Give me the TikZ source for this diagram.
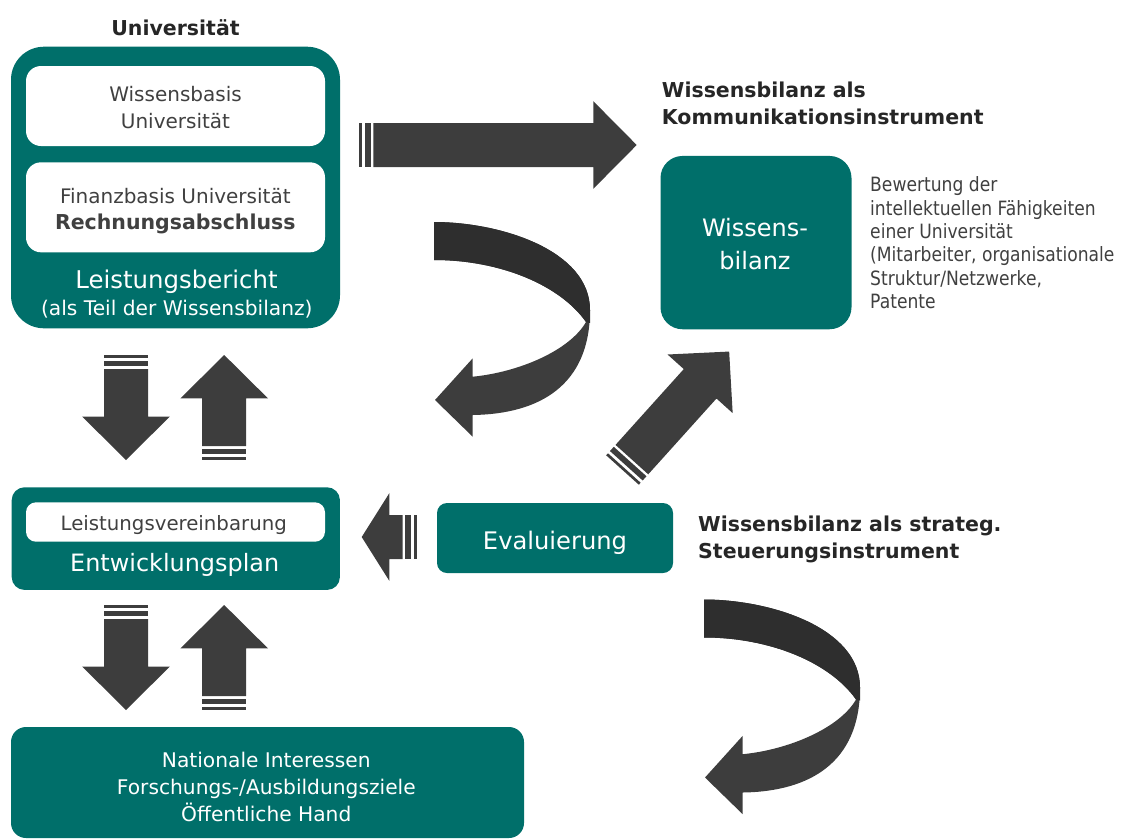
\documentclass[tikz,border=0pt]{standalone}
\usepackage{fontspec}
\setmainfont{DejaVu Sans}
\newfontfamily\sidefont[FakeStretch=0.87]{DejaVu Sans}
\definecolor{teal1}{RGB}{0,111,106}
\definecolor{arrowc}{RGB}{61,61,61}
\definecolor{arrowd}{RGB}{46,46,46}
\definecolor{headc}{RGB}{38,38,38}
\definecolor{grayt}{RGB}{64,64,64}
% #1,#2 tail position, #3 angle, #4 length, #5 head length
\newcommand{\blockarrow}[5]{%
  \begin{scope}[shift={(#1,#2)},rotate=#3]
    \fill[arrowc] (0,-22) rectangle (2.7,22);
    \fill[arrowc] (5.7,-22) rectangle (11.4,22);
    \fill[arrowc] (14,-22) -- ({#4-#5},-22) -- ({#4-#5},-43.8) -- (#4,0)
      -- ({#4-#5},43.8) -- ({#4-#5},22) -- (14,22) -- cycle;
  \end{scope}}
\newcommand{\curvedarrow}{%
  \fill[arrowc] (434,222) .. controls (500,222) and (590,250) .. (590,310)
    .. controls (590,385) and (540,414) .. (472.7,415)
    -- (472.7,436.7) -- (435,400) -- (472.7,358.3) -- (472.7,376.7)
    .. controls (520,372) and (570,350) .. (586,322)
    .. controls (560,285) and (500,260) .. (434,260) -- cycle;
  \fill[arrowd] (434,222) .. controls (500,222) and (590,250) .. (590,310)
    -- (590,323) -- (586,322)
    .. controls (560,285) and (500,260) .. (434,260) -- cycle;}
\tikzset{
  tealbox/.style={fill=teal1, draw=none, inner sep=0pt},
  whitebox/.style={fill=white, draw=none, inner sep=0pt},
  hd/.style={inner sep=0pt, anchor=base west, text=headc, font=\fontsize{20.5}{24}\selectfont\bfseries},
  wt/.style={inner sep=0pt, anchor=base, text=white},
  gt/.style={inner sep=0pt, anchor=base, text=grayt},
  st/.style={inner sep=0pt, anchor=base west, text=grayt, font=\sidefont\fontsize{19.7}{23}\selectfont},
}
\begin{document}
\begin{tikzpicture}[x=1pt,y=-1pt]
\useasboundingbox (0,0) rectangle (1121,839);

% ---------- boxes ----------
\node[tealbox, rounded corners=33pt, minimum width=329pt, minimum height=281.6pt] (unibox) at (175.5,187.5) {};
\node[whitebox, rounded corners=15pt, minimum width=299pt, minimum height=80pt] (wbbox) at (175.5,106) {};
\node[whitebox, rounded corners=15pt, minimum width=299pt, minimum height=90pt] (fbbox) at (175.5,207.3) {};

\node[tealbox, rounded corners=22pt, minimum width=191pt, minimum height=173.3pt] (wbil) at (756,242.6) {};

\node[tealbox, rounded corners=13pt, minimum width=328.3pt, minimum height=102.7pt] (epbox) at (175.8,538.6) {};
\node[whitebox, rounded corners=10pt, minimum width=299pt, minimum height=39.4pt] (lvbox) at (175.5,522) {};

\node[tealbox, rounded corners=10pt, minimum width=236pt, minimum height=70pt] (evbox) at (555,538) {};

\node[tealbox, rounded corners=15pt, minimum width=513pt, minimum height=111pt] (natbox) at (267.5,782.5) {};

% ---------- texts ----------
\node[inner sep=0pt, anchor=base, text=headc, font=\fontsize{20.5}{24}\selectfont\bfseries] (tuni) at (175.5,35) {Universität};

\node[gt, font=\fontsize{20}{24}\selectfont] (twb1) at (175.5,101.7) {Wissensbasis};
\node[gt, font=\fontsize{20}{24}\selectfont] (twb2) at (175.5,128.3) {Universität};
\node[gt, font=\fontsize{20}{24}\selectfont] (tfb1) at (175.3,203.3) {Finanzbasis Universität};
\node[gt, font=\fontsize{20.5}{24}\selectfont\bfseries] (tfb2) at (175.3,229.3) {Rechnungsabschluss};
\node[wt, font=\fontsize{24.4}{28}\selectfont] (tlb1) at (176.5,288.3) {Leistungsbericht};
\node[wt, font=\fontsize{20.2}{24}\selectfont] (tlb2) at (176.8,315) {(als Teil der Wissensbilanz)};

\node[hd] (tk1) at (661.7,97.3) {Wissensbilanz als};
\node[hd] (tk2) at (661.7,124) {Kommunikationsinstrument};

\node[wt, font=\fontsize{24}{28}\selectfont] (twz1) at (755,236.7) {Wissens-};
\node[wt, font=\fontsize{24}{28}\selectfont] (twz2) at (755,269) {bilanz};

\node[st] (ts1) at (870,191.7) {Bewertung der};
\node[st] (ts2) at (870,215) {intellektuellen Fähigkeiten};
\node[st] (ts3) at (870,238.3) {einer Universität};
\node[st] (ts4) at (870,261.7) {(Mitarbeiter, organisationale};
\node[st] (ts5) at (870,285) {Struktur/Netzwerke,};
\node[st] (ts6) at (870,308.3) {Patente};

\node[gt, font=\fontsize{19.75}{24}\selectfont] (tlv) at (173.7,530) {Leistungsvereinbarung};
\node[wt, font=\fontsize{23.9}{28}\selectfont] (tep) at (174.7,571.7) {Entwicklungsplan};

\node[wt, font=\fontsize{24.2}{28}\selectfont] (tev) at (555,549) {Evaluierung};

\node[hd] (ts1h) at (698,531) {Wissensbilanz als strateg.};
\node[hd] (ts2h) at (698,558) {Steuerungsinstrument};

\node[wt, font=\fontsize{20.2}{24}\selectfont] (tn1) at (266.3,767) {Nationale Interessen};
\node[wt, font=\fontsize{20.2}{24}\selectfont] (tn2) at (266.3,794) {Forschungs-/Ausbildungsziele};
\node[wt, font=\fontsize{20.2}{24}\selectfont] (tn3) at (266.3,821) {Öffentliche Hand};

% ---------- block arrows ----------
\blockarrow{359.3}{145}{0}{277.4}{43.4}
\blockarrow{126}{355}{-90}{105}{43.4}
\blockarrow{224.2}{460}{90}{105}{43.4}
\blockarrow{126}{605}{-90}{105}{43.4}
\blockarrow{224.2}{710}{90}{105}{43.4}
\blockarrow{416.5}{537}{180}{54.8}{27.6}
\blockarrow{622.5}{470}{48}{159.4}{43.4}

% ---------- curved arrows ----------
\curvedarrow
\begin{scope}[shift={(270,377.5)}]
\curvedarrow
\end{scope}
\end{tikzpicture}
\end{document}
